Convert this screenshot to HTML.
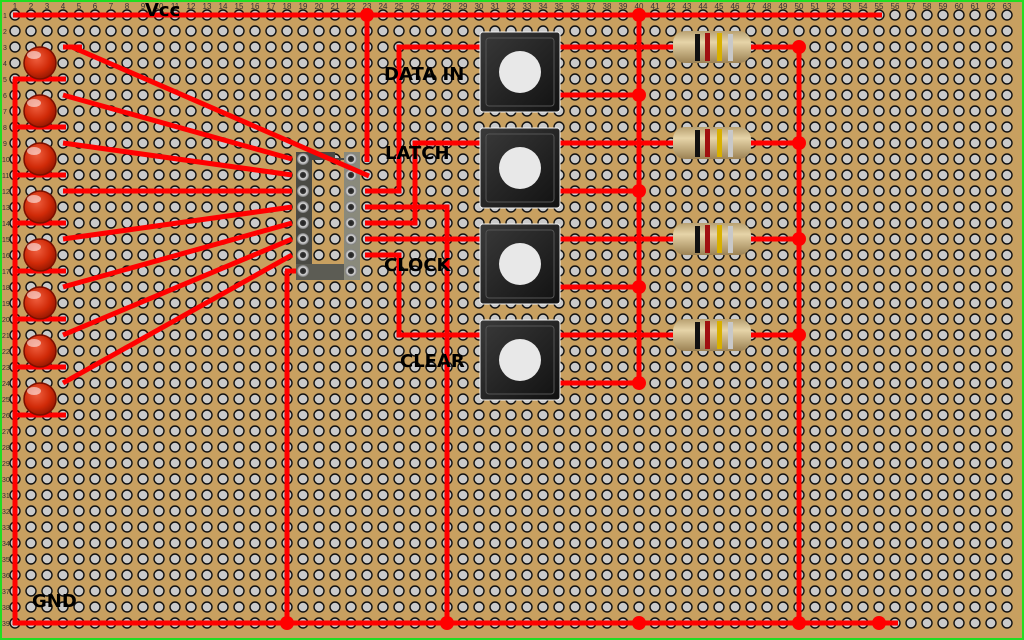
<!DOCTYPE html>
<html><head><meta charset="utf-8"><style>
html,body{margin:0;padding:0;background:#c8a060;}
svg{display:block}
.cl{font:8px "Liberation Sans",sans-serif;fill:#333;text-anchor:middle}
.rl{font:7px "Liberation Sans",sans-serif;fill:#333}
.lb{font:bold 18px "DejaVu Sans","Liberation Sans",sans-serif;fill:#000}
</style></head><body>
<svg width="1024" height="640" viewBox="0 0 1024 640" xmlns="http://www.w3.org/2000/svg">
<defs>
<pattern id="h" x="7" y="7" width="16" height="16" patternUnits="userSpaceOnUse">
<circle cx="8" cy="8" r="5" fill="#cacaca" stroke="#111" stroke-width="1.4"/>
</pattern>
<radialGradient id="led" cx="0.4" cy="0.35" r="0.7">
<stop offset="0" stop-color="#f06040"/><stop offset="0.6" stop-color="#d02a08"/><stop offset="1" stop-color="#901500"/>
</radialGradient>
<linearGradient id="res" x1="0" y1="0" x2="0" y2="1">
<stop offset="0" stop-color="#b8a070"/><stop offset="0.35" stop-color="#e6d4a8"/><stop offset="1" stop-color="#9c8254"/>
</linearGradient>
<linearGradient id="btn" x1="0" y1="0" x2="1" y2="1">
<stop offset="0" stop-color="#3a3a3a"/><stop offset="1" stop-color="#111"/>
</linearGradient>
<radialGradient id="pin" cx="0.5" cy="0.5" r="0.5">
<stop offset="0" stop-color="#222"/><stop offset="0.45" stop-color="#333"/><stop offset="0.6" stop-color="#ddd"/><stop offset="1" stop-color="#777"/>
</radialGradient>
<g id="rz">
<rect x="673" y="-16" width="78" height="32" rx="12" fill="url(#res)"/>
<rect x="695" y="-13" width="5" height="27" fill="#111"/>
<rect x="705" y="-14" width="5" height="28" fill="#a01010"/>
<rect x="717" y="-14" width="5" height="28" fill="#d8b000"/>
<rect x="728" y="-13" width="5" height="27" fill="#c8c8c8"/>
</g>
<g id="bt">
<rect x="480" y="0" width="80" height="80" rx="3" fill="url(#btn)" stroke="#f0f0f0" stroke-width="1"/>
<rect x="486" y="6" width="68" height="68" rx="3" fill="none" stroke="#555" stroke-width="1"/>
<circle cx="520" cy="40" r="21" fill="#e8e8e8"/>
</g>
</defs>
<rect x="0" y="0" width="1024" height="640" fill="#c8a060"/>
<rect x="7" y="7" width="1008" height="624" fill="url(#h)"/>
<rect x="1" y="1" width="1022" height="638" fill="none" stroke="#22dd22" stroke-width="2"/>

<g class="cl">
<text x="15" y="9">1</text><text x="31" y="9">2</text><text x="47" y="9">3</text><text x="63" y="9">4</text><text x="79" y="9">5</text><text x="95" y="9">6</text><text x="111" y="9">7</text><text x="127" y="9">8</text><text x="143" y="9">9</text><text x="159" y="9">10</text><text x="175" y="9">11</text><text x="191" y="9">12</text><text x="207" y="9">13</text><text x="223" y="9">14</text><text x="239" y="9">15</text><text x="255" y="9">16</text><text x="271" y="9">17</text><text x="287" y="9">18</text><text x="303" y="9">19</text><text x="319" y="9">20</text><text x="335" y="9">21</text><text x="351" y="9">22</text><text x="367" y="9">23</text><text x="383" y="9">24</text><text x="399" y="9">25</text><text x="415" y="9">26</text><text x="431" y="9">27</text><text x="447" y="9">28</text><text x="463" y="9">29</text><text x="479" y="9">30</text><text x="495" y="9">31</text><text x="511" y="9">32</text><text x="527" y="9">33</text><text x="543" y="9">34</text><text x="559" y="9">35</text><text x="575" y="9">36</text><text x="591" y="9">37</text><text x="607" y="9">38</text><text x="623" y="9">39</text><text x="639" y="9">40</text><text x="655" y="9">41</text><text x="671" y="9">42</text><text x="687" y="9">43</text><text x="703" y="9">44</text><text x="719" y="9">45</text><text x="735" y="9">46</text><text x="751" y="9">47</text><text x="767" y="9">48</text><text x="783" y="9">49</text><text x="799" y="9">50</text><text x="815" y="9">51</text><text x="831" y="9">52</text><text x="847" y="9">53</text><text x="863" y="9">54</text><text x="879" y="9">55</text><text x="895" y="9">56</text><text x="911" y="9">57</text><text x="927" y="9">58</text><text x="943" y="9">59</text><text x="959" y="9">60</text><text x="975" y="9">61</text><text x="991" y="9">62</text><text x="1007" y="9">63</text>
</g>
<g class="rl">
<text x="3" y="18">1</text><text x="3" y="34">2</text><text x="3" y="50">3</text><text x="3" y="66">4</text><text x="3" y="82">5</text><text x="3" y="98">6</text><text x="3" y="114">7</text><text x="3" y="130">8</text><text x="3" y="146">9</text><text x="2" y="162">10</text><text x="2" y="178">11</text><text x="2" y="194">12</text><text x="2" y="210">13</text><text x="2" y="226">14</text><text x="2" y="242">15</text><text x="2" y="258">16</text><text x="2" y="274">17</text><text x="2" y="290">18</text><text x="2" y="306">19</text><text x="2" y="322">20</text><text x="2" y="338">21</text><text x="2" y="354">22</text><text x="2" y="370">23</text><text x="2" y="386">24</text><text x="2" y="402">25</text><text x="2" y="418">26</text><text x="2" y="434">27</text><text x="2" y="450">28</text><text x="2" y="466">29</text><text x="2" y="482">30</text><text x="2" y="498">31</text><text x="2" y="514">32</text><text x="2" y="530">33</text><text x="2" y="546">34</text><text x="2" y="562">35</text><text x="2" y="578">36</text><text x="2" y="594">37</text><text x="2" y="610">38</text><text x="2" y="626">39</text>
</g>

<!-- IC socket -->
<g>
<path d="M296 152 H335 V158 H344 V152 H360 V280 H296 Z M312 160 V264 H344 V160 Z" fill="#4a4a44" fill-rule="evenodd"/>
<rect x="296" y="264" width="64" height="16" fill="#5c5c54"/>
<rect x="344" y="152" width="16" height="128" fill="#8a8a7c"/>
<g fill="url(#pin)">
<circle cx="303" cy="159" r="6"/><circle cx="303" cy="175" r="6"/><circle cx="303" cy="191" r="6"/><circle cx="303" cy="207" r="6"/><circle cx="303" cy="223" r="6"/><circle cx="303" cy="239" r="6"/><circle cx="303" cy="255" r="6"/><circle cx="303" cy="271" r="6"/>
<circle cx="351" cy="159" r="6"/><circle cx="351" cy="175" r="6"/><circle cx="351" cy="191" r="6"/><circle cx="351" cy="207" r="6"/><circle cx="351" cy="223" r="6"/><circle cx="351" cy="239" r="6"/><circle cx="351" cy="255" r="6"/><circle cx="351" cy="271" r="6"/>
</g>
</g>

<!-- wires -->
<g stroke="#ff0000" stroke-width="5" fill="none" stroke-linecap="butt">
<path d="M13 15 H882"/>
<path d="M13 623 H898"/>
<path d="M15 79 V625"/>
<path d="M13 79 H66 M13 127 H66 M13 175 H66 M13 223 H66 M13 271 H66 M13 319 H66 M13 367 H66 M13 415 H66"/>
<path d="M63 47 H82"/>
<path d="M72 47 L369 176"/>
<path d="M63 95 L292 159"/>
<path d="M63 143 L292 175"/>
<path d="M63 191 L292 191"/>
<path d="M63 239 L292 207"/>
<path d="M63 287 L292 223"/>
<path d="M63 335 L292 239"/>
<path d="M63 383 L292 255"/>
<path d="M287 271 V623 M285 271 H296"/>
<path d="M367 15 V162"/>
<path d="M365 191 H399 V47 H482"/>
<path d="M365 207 H447 V623"/>
<path d="M365 223 H415 V143 H482"/>
<path d="M365 239 H482"/>
<path d="M365 255 H399 V335 H482"/>
<path d="M639 15 V383"/>
<path d="M799 47 V623"/>
<path d="M558 47 H801 M558 143 H801 M558 239 H801 M558 335 H801"/>
<path d="M558 95 H639 M558 191 H639 M558 287 H639 M558 383 H639"/>
</g>
<g fill="#ff0000">
<circle cx="367" cy="15" r="7"/><circle cx="639" cy="15" r="7"/>
<circle cx="639" cy="95" r="7"/><circle cx="639" cy="191" r="7"/><circle cx="639" cy="287" r="7"/><circle cx="639" cy="383" r="7"/>
<circle cx="799" cy="47" r="7"/><circle cx="799" cy="143" r="7"/><circle cx="799" cy="239" r="7"/><circle cx="799" cy="335" r="7"/>
<circle cx="287" cy="623" r="7"/><circle cx="447" cy="623" r="7"/><circle cx="639" cy="623" r="7"/><circle cx="799" cy="623" r="7"/><circle cx="879" cy="623" r="7"/>
</g>

<!-- LEDs -->
<g stroke="#7a1000" stroke-width="1.5" fill="url(#led)">
<circle cx="40" cy="63" r="16"/><circle cx="40" cy="111" r="16"/><circle cx="40" cy="159" r="16"/><circle cx="40" cy="207" r="16"/><circle cx="40" cy="255" r="16"/><circle cx="40" cy="303" r="16"/><circle cx="40" cy="351" r="16"/><circle cx="40" cy="399" r="16"/>
</g>
<g fill="#fff" opacity="0.55">
<ellipse cx="34" cy="55" rx="7" ry="4"/><ellipse cx="34" cy="103" rx="7" ry="4"/><ellipse cx="34" cy="151" rx="7" ry="4"/><ellipse cx="34" cy="199" rx="7" ry="4"/><ellipse cx="34" cy="247" rx="7" ry="4"/><ellipse cx="34" cy="295" rx="7" ry="4"/><ellipse cx="34" cy="343" rx="7" ry="4"/><ellipse cx="34" cy="391" rx="7" ry="4"/>
</g>

<!-- buttons -->
<use href="#bt" y="32"/><use href="#bt" y="128"/><use href="#bt" y="224"/><use href="#bt" y="320"/>
<!-- resistors -->
<use href="#rz" y="47"/><use href="#rz" y="143"/><use href="#rz" y="239"/><use href="#rz" y="335"/>

<!-- labels -->
<text class="lb" x="145" y="16">Vcc</text>
<text class="lb" x="384" y="80">DATA IN</text>
<text class="lb" x="385" y="159">LATCH</text>
<text class="lb" x="384" y="271">CLOCK</text>
<text class="lb" x="400" y="367">CLEAR</text>
<text class="lb" x="32" y="607">GND</text>
</svg>
</body></html>
